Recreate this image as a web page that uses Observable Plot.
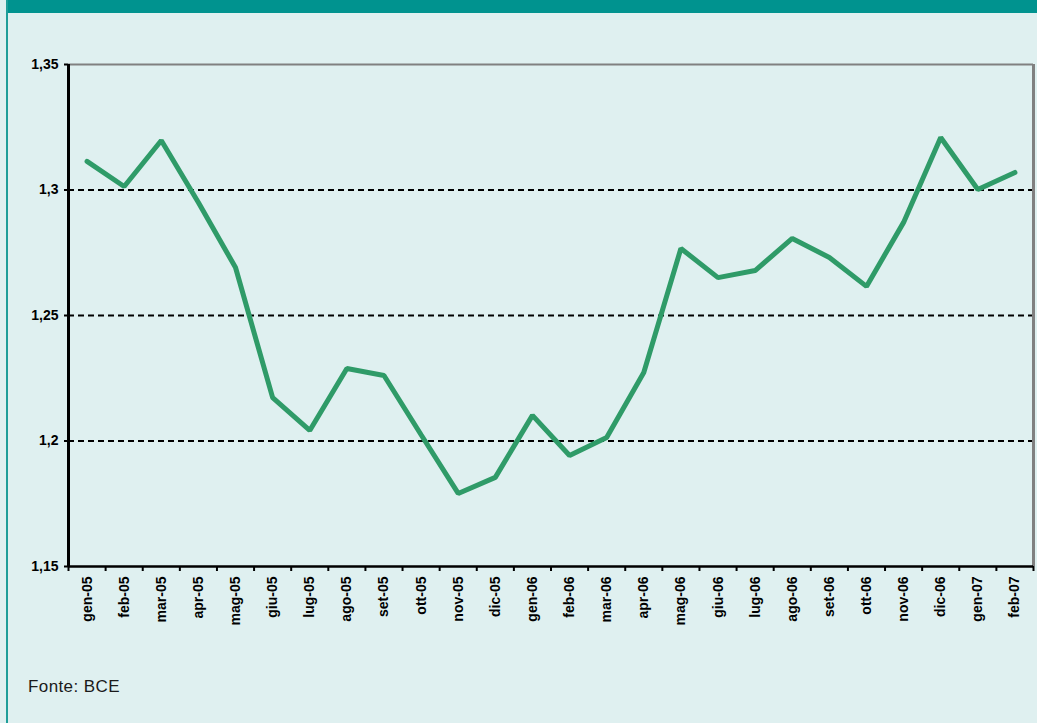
<!DOCTYPE html>
<html>
<head>
<meta charset="utf-8">
<script src="https://cdn.jsdelivr.net/npm/d3@7"></script>
<script src="https://cdn.jsdelivr.net/npm/@observablehq/plot@0.6"></script>
<style>
  html, body { margin: 0; padding: 0; background: #dff0f0; }
  #page { position: relative; width: 1037px; height: 723px; background: #dff0f0; overflow: hidden; font-family: Arial, "Liberation Sans", sans-serif; }
  #band { position: absolute; left: 6px; top: 0; width: 1031px; height: 13px; background: #00938f; }
  #leftline { position: absolute; left: 6px; top: 0; width: 2px; height: 723px; background: #1f9e99; }
  #chart { position: absolute; left: 0; top: 0; }
  #source { position: absolute; left: 28px; top: 677px; font-size: 17px; letter-spacing: 0.4px; color: #1a1a1a; font-family: Arial, "Liberation Sans", sans-serif; }
</style>
</head>
<body>
<div id="page">
  <div id="band"></div>
  <div id="leftline"></div>
  <div id="chart"></div>
  <div id="source">Fonte: BCE</div>
</div>
<script>
const months = ["gen-05","feb-05","mar-05","apr-05","mag-05","giu-05","lug-05","ago-05","set-05","ott-05","nov-05","dic-05",
                "gen-06","feb-06","mar-06","apr-06","mag-06","giu-06","lug-06","ago-06","set-06","ott-06","nov-06","dic-06",
                "gen-07","feb-07"];
const values = [1.3114, 1.3014, 1.3197, 1.2950, 1.2691, 1.2173, 1.2042, 1.2289, 1.2261, 1.2025, 1.1791, 1.1855,
                1.2102, 1.1942, 1.2014, 1.2273, 1.2767, 1.2651, 1.2679, 1.2807, 1.2731, 1.2616, 1.2871, 1.3209,
                1.3002, 1.3070];
const yTicks = [1.15, 1.2, 1.25, 1.3, 1.35];
const gridLines = [1.2, 1.25, 1.3];

const data = months.map((m, i) => ({month: m, pos: i + 0.5, value: values[i]}));
const boundaries = d3.range(months.length + 1);
const fmtIt = d => (+d.toFixed(2)).toString().replace(".", ",");

const chart = Plot.plot({
  width: 1037,
  height: 660,
  marginLeft: 68,
  marginRight: 4,
  marginTop: 64,
  marginBottom: 94,
  x: {domain: [0, months.length], axis: null, label: null},
  y: {domain: [1.15, 1.35], axis: null, label: null},
  style: {background: "transparent", fontFamily: "Arial, 'Liberation Sans', sans-serif", color: "#000"},
  marks: [
    Plot.ruleY(gridLines, {stroke: "#000", strokeWidth: 2, strokeDasharray: "6,4"}),
    Plot.ruleY([1.35], {stroke: "#808080", strokeWidth: 2}),
    Plot.ruleX([months.length], {stroke: "#808080", strokeWidth: 3}),
    Plot.lineY(data, {x: "pos", y: "value", stroke: "#2f9b68", strokeWidth: 5, strokeLinejoin: "miter"}),
    Plot.ruleY([1.15], {stroke: "#000", strokeWidth: 2.5}),
    Plot.ruleX([0], {stroke: "#000", strokeWidth: 3}),
    Plot.axisY({ticks: yTicks, label: null, tickSize: 4, tickPadding: 6, tickFormat: fmtIt, fontSize: 14, fontWeight: "bold", strokeWidth: 2}),
    Plot.axisX({ticks: boundaries, label: null, tickSize: 5, tickFormat: () => "", strokeWidth: 2}),
    Plot.axisX({ticks: data.map(d => d.pos), label: null, tickSize: 0, tickPadding: 10, tickRotate: -90,
                tickFormat: p => months[Math.round(p - 0.5)], fontSize: 14, fontWeight: "bold"})
  ]
});
document.getElementById("chart").appendChild(chart);
</script>
</body>
</html>
